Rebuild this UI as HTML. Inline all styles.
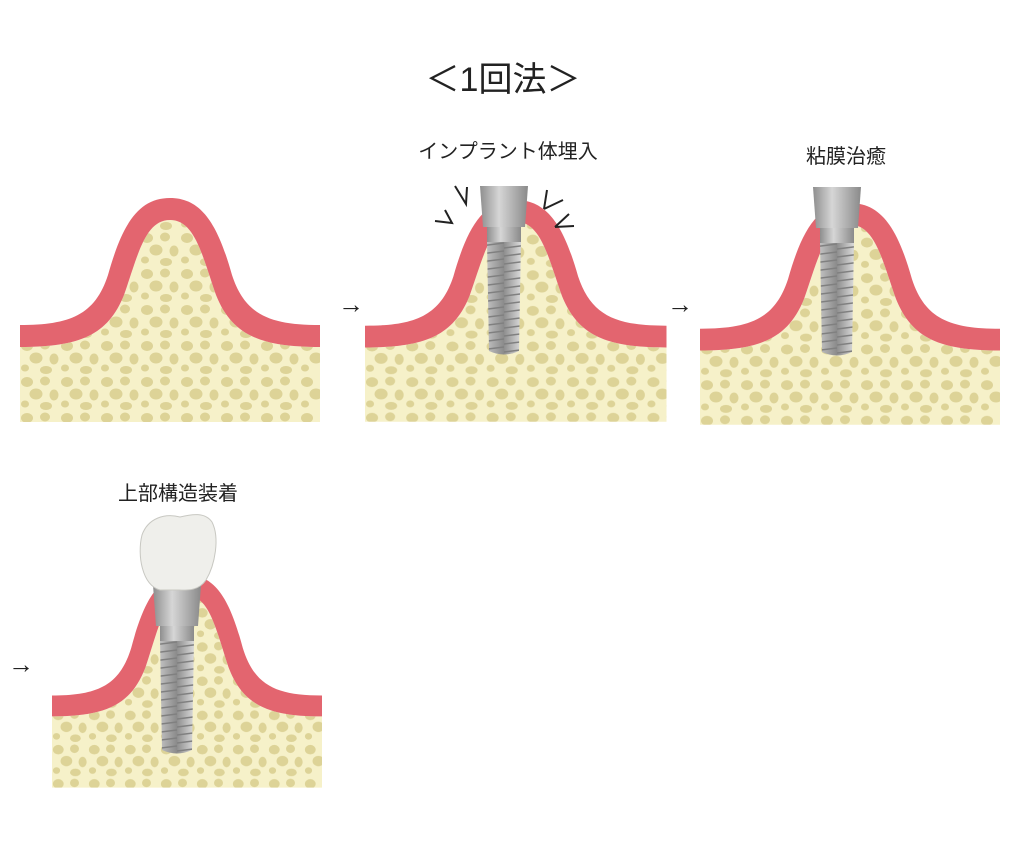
<!DOCTYPE html>
<html><head><meta charset="utf-8"><style>
html,body{margin:0;padding:0;background:#fff;}
svg{display:block}
text{font-family:"Liberation Sans","Noto Sans CJK JP",sans-serif;fill:#222}
</style></head><body>
<svg width="1024" height="853" viewBox="0 0 1024 853" xmlns="http://www.w3.org/2000/svg">
<defs>
<pattern id="dots" width="40" height="36" patternUnits="userSpaceOnUse">
<rect width="40" height="36" fill="#f6f1c9"/>
<ellipse cx="7" cy="7" rx="6" ry="5" fill="#ddd397"/>
<ellipse cx="25" cy="6" rx="5" ry="4.5" fill="#ddd397"/>
<ellipse cx="16" cy="19" rx="6.5" ry="5.5" fill="#ddd397"/>
<ellipse cx="34" cy="20" rx="4.5" ry="5.5" fill="#ddd397"/>
<ellipse cx="5" cy="29" rx="4" ry="3.5" fill="#ddd397"/>
<ellipse cx="26" cy="31" rx="6" ry="4" fill="#ddd397"/>
</pattern>
<linearGradient id="metal" x1="0" x2="1">
<stop offset="0" stop-color="#8e8e8e"/><stop offset="0.4" stop-color="#d6d6d6"/><stop offset="1" stop-color="#8a8a8a"/>
</linearGradient>
<pattern id="thread" width="40" height="8" patternUnits="userSpaceOnUse">
<rect width="40" height="8" fill="url(#metal)"/>
<path d="M0,6 L40,1" stroke="#808080" stroke-width="1.6"/>
</pattern>
<g id="site">
<path d="M0,152 C60,152 88,140 104,100 C118,60 125,25 150,25 C175,25 182,60 196,100 C212,140 240,152 300,152 L300,227 L0,227 Z" fill="url(#dots)"/>
<path d="M0,130 C50,130 75,120 88,80 C102,30 118,3 150,3 C182,3 198,30 212,80 C225,120 250,130 300,130 L300,152 C240,152 212,140 196,100 C182,60 175,25 150,25 C125,25 118,60 104,100 C88,140 60,152 0,152 Z" fill="#e3656f"/>
</g>
<g id="implant">
<path d="M-17,55 L17,55 L15,165 Q0,172 -15,165 Z" fill="url(#thread)"/>
<rect x="-17" y="41" width="34" height="15" fill="url(#metal)"/>
<path d="M-24,0 L24,0 L21,41 L-21,41 Z" fill="url(#metal)"/>
</g>
</defs>

<text x="503" y="91" font-size="34" text-anchor="middle">＜1回法＞</text>
<text x="508" y="158" font-size="20" text-anchor="middle">インプラント体埋入</text>
<text x="846" y="163" font-size="20" text-anchor="middle">粘膜治癒</text>
<text x="178" y="500" font-size="20" text-anchor="middle">上部構造装着</text>

<text x="338" y="313" font-size="26">→</text>
<text x="667" y="313" font-size="26">→</text>
<text x="8" y="673" font-size="26">→</text>

<use href="#site" transform="translate(20,195)"/>

<use href="#site" transform="translate(365,197) scale(1.005,0.99)"/>
<use href="#implant" transform="translate(504,186)"/>
<g stroke="#222" stroke-width="2" fill="none">
<path d="M435,221 L452,223 L445,210"/>
<path d="M455,186 L466,204 L467,187"/>
<path d="M544,209 L547,190 M544,209 L563,200"/>
<path d="M555,227 L574,226 M555,227 L569,214"/>
</g>

<use href="#site" transform="translate(700,200) scale(1,0.99)"/>
<use href="#implant" transform="translate(837,187)"/>

<use href="#site" transform="translate(52,572) scale(0.9,0.95)"/>
<use href="#implant" transform="translate(177,585)"/>
<path d="M160,590 C142,585 137,555 142,535 C148,518 165,513 180,517 C192,514 205,512 212,522 C220,538 215,565 206,580 C198,592 185,590 175,590 Z" fill="#efefeb" stroke="#c8c8c2" stroke-width="1"/>
</svg>
</body></html>
